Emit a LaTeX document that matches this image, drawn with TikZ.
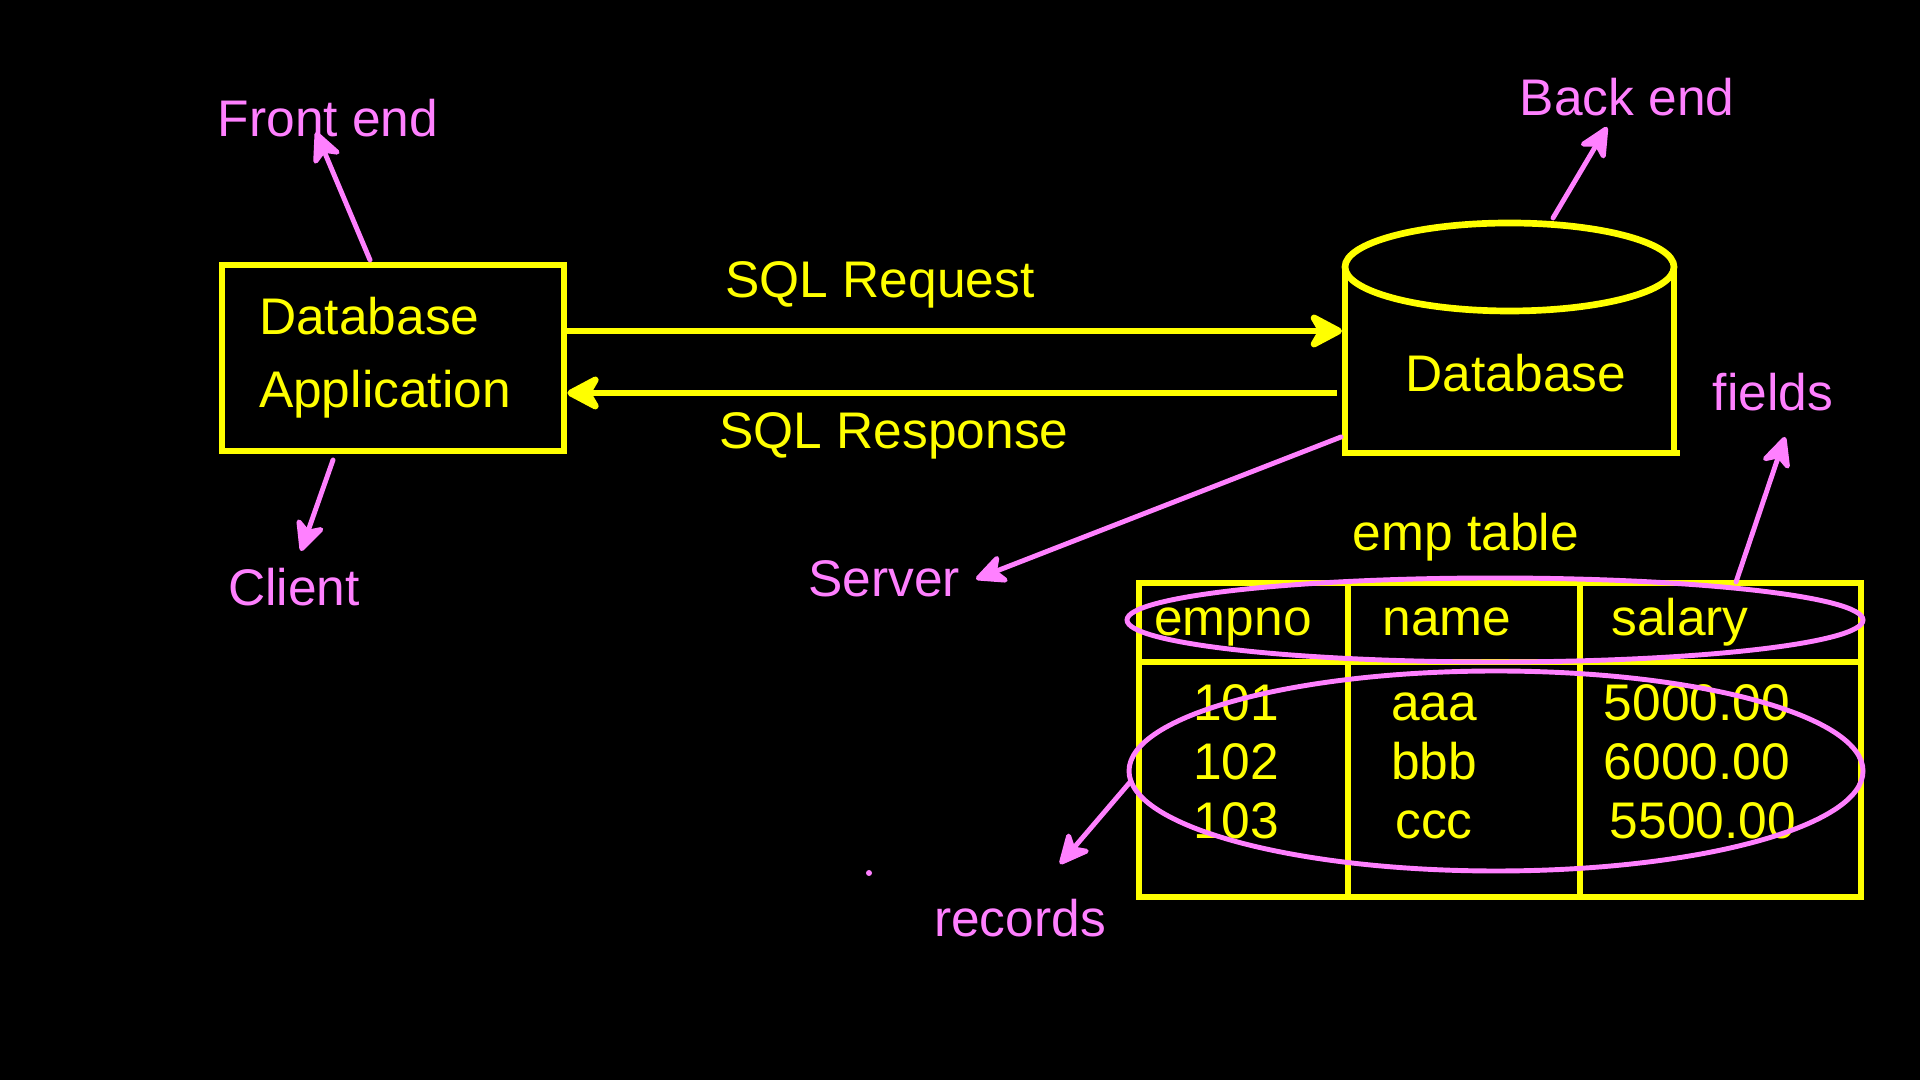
\documentclass[tikz,border=0pt]{standalone}
\usepackage{fontspec}
\setmainfont{Liberation Sans}
\usetikzlibrary{arrows.meta}

\definecolor{markYellow}{RGB}{255,255,0}
\definecolor{notePink}{RGB}{255,128,255}

\tikzset{
  yellowLine/.style={draw=markYellow, line width=1.9pt},
  pinkLine/.style={draw=notePink, line width=1.4pt},
  yellowArrow/.style={yellowLine, -{Stealth[round, length=0.40cm, width=0.42cm, inset=0.12cm]}},
  pinkArrow/.style={pinkLine, line cap=round, -{Stealth[round, length=0.36cm, width=0.34cm, inset=0.10cm]}},
  yellowText/.style={text=markYellow, font=\fontsize{14.65pt}{20.8pt}\selectfont, inner sep=0pt},
  pinkText/.style={text=notePink, font=\fontsize{14.65pt}{20.8pt}\selectfont, inner sep=0pt},
}

\begin{document}
\begin{tikzpicture}[x=1cm,y=1cm]

% Canvas 1920x1080 px -> 19.2 x 10.8 cm, black background
\fill[black] (0,0) rectangle (19.2,10.8);

% --- Client side: application box ---
\node[yellowLine, yellowText, minimum height=1.86cm, text width=2.68cm,
      inner xsep=0.37cm, align=left] (app) at (3.93,7.22) {Database\\Application};

% --- Server side: database cylinder ---
\coordinate (dbTopCenter) at (15.095,8.13);
\def\dbrx{1.645} \def\dbry{0.44}
\coordinate (dbTopLeft)   at (13.45,8.13);
\coordinate (dbTopRight)  at (16.74,8.13);
\coordinate (dbBotLeft)   at (13.45,6.27);
\coordinate (dbBotRight)  at (16.80,6.27);
\draw[yellowLine] (dbTopCenter) ellipse ({\dbrx} and {\dbry});
\draw[yellowLine] (dbTopLeft) -- (dbBotLeft) -- (dbBotRight);
\draw[yellowLine] (dbTopRight) -- (16.74,6.27);
\node[yellowText] (db) at (15.16,7.07) {Database};

% --- Request / response arrows ---
\coordinate (dbReqIn)  at (13.42,7.49);
\coordinate (dbRespOut) at (13.37,6.87);
\draw[yellowArrow] (app.east |- dbReqIn) -- (dbReqIn);
\draw[yellowArrow] (dbRespOut) -- (app.east |- dbRespOut);
\node[yellowText] (sqlReq)  at (8.80,7.95) {SQL Request};
\node[yellowText] (sqlResp) at (8.94,6.44) {SQL Response};

% --- emp table ---
\node[yellowText] (empTable) at (14.66,5.43) {emp table};
\coordinate (tabNW) at (11.39,4.97);
\coordinate (tabSE) at (18.61,1.83);
\draw[yellowLine] (tabNW) rectangle (tabSE);
\draw[yellowLine] (11.39,4.18) -- (18.61,4.18);
\draw[yellowLine] (13.48,4.97) -- (13.48,1.83);
\draw[yellowLine] (15.80,4.97) -- (15.80,1.83);

% header row
\node[yellowText, anchor=base] (hEmpno)  at (12.33,4.44) {empno};
\node[yellowText, anchor=base] (hName)   at (14.47,4.44) {name};
\node[yellowText, anchor=base] (hSalary) at (16.80,4.44) {salary};

% data rows
\foreach \num/\nm/\sal/\ypos/\sx [count=\r] in
    {101/aaa/5000.00/3.59/16.97, 102/bbb/6000.00/3.00/16.97, 103/ccc/5500.00/2.41/17.03}{
  \node[yellowText, anchor=base] (num\r) at (12.36,\ypos) {\num};
  \node[yellowText, anchor=base] (nm\r)  at (14.34,\ypos) {\nm};
  \node[yellowText, anchor=base] (sal\r) at (\sx,\ypos) {\sal};
}

% --- Pink notes ---
\draw[pinkLine] (14.95,4.60) ellipse (3.68 and 0.42);
\draw[pinkLine] (14.96,3.09) ellipse (3.67 and 1.00);

\node[pinkText] (frontEnd) at (3.28,9.62) {Front end};
\node[pinkText] (backEnd)  at (16.27,9.83) {Back end};
\node[pinkText] (client)   at (2.94,4.93) {Client};
\node[pinkText] (server)   at (8.84,5.01) {Server};
\node[pinkText] (fields)   at (17.73,6.88) {fields};
\node[pinkText] (records)  at (10.20,1.62) {records};

\coordinate (frontTip)   at (3.16,9.48);
\coordinate (backTip)    at (16.07,9.53);
\coordinate (clientTip)  at (3.01,5.29);
\coordinate (serverTip)  at (9.76,5.01);
\coordinate (fieldsTip)  at (17.85,6.43);
\coordinate (recordsTip) at (10.60,2.16);

\draw[pinkArrow] (3.70,8.20)   -- (frontTip);
\draw[pinkArrow] (15.53,8.62)  -- (backTip);
\draw[pinkArrow] (3.33,6.20)   -- (clientTip);
\draw[pinkArrow] (13.41,6.43)  -- (serverTip);
\draw[pinkArrow] (17.36,4.98)  -- (fieldsTip);
\draw[pinkArrow] (11.31,2.99)  -- (recordsTip);

% stray pen dot
\fill[notePink] (8.69,2.07) circle (0.03);

\end{tikzpicture}
\end{document}
